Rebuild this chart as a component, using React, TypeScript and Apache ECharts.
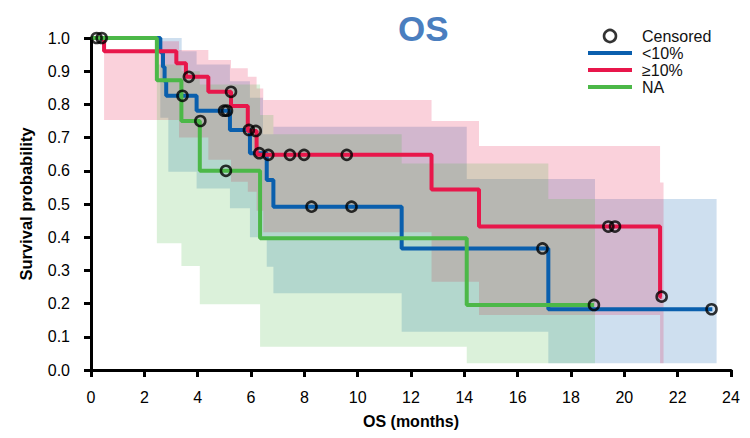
import React, { useEffect, useRef } from "react";
import * as echarts from "echarts";

// Kaplan–Meier step points: [time (months), survival probability]
const lowSteps: number[][] = [
  [0, 1], [2.6, 0.957], [2.7, 0.913], [2.76, 0.87], [2.82, 0.826], [3.96, 0.781],
  [5.21, 0.723], [5.96, 0.653], [6.59, 0.572], [6.84, 0.492], [11.65, 0.366],
  [17.15, 0.183], [23.3, 0.183],
];
const highSteps: number[][] = [
  [0, 1], [0.49, 0.96], [3.2, 0.924], [3.56, 0.883], [4.4, 0.838], [5.25, 0.795],
  [5.88, 0.72], [6.21, 0.648], [12.77, 0.544], [14.55, 0.432], [21.34, 0.221],
  [21.4, 0.221],
];
const naSteps: number[][] = [
  [0, 1], [2.47, 0.873], [3.39, 0.75], [4.08, 0.6], [6.34, 0.397], [14.09, 0.196],
  [18.86, 0.196],
];

// Censored observations
const lowCensor: number[][] = [
  [3.43, 0.826], [4.99, 0.781], [5.1, 0.781], [5.92, 0.723], [6.31, 0.653],
  [8.27, 0.492], [9.77, 0.492], [16.93, 0.366], [23.27, 0.183],
];
const highCensor: number[][] = [
  [0.4, 1], [3.67, 0.883], [5.25, 0.838], [6.18, 0.72], [6.65, 0.648], [7.46, 0.648],
  [7.99, 0.648], [9.59, 0.648], [19.4, 0.432], [19.65, 0.432], [21.4, 0.221],
];
const naCensor: number[][] = [[0.21, 1], [4.1, 0.75], [5.06, 0.6], [18.86, 0.196]];

// Confidence bands: breakpoints and lower/upper bound per interval
const lowBandT = [2.6, 2.9, 3.4, 3.96, 5.21, 5.96, 6.45, 6.59, 6.84, 11.65, 14.09, 17.15, 18.9, 23.46];
const lowBandLo = [0.76, 0.597, 0.597, 0.547, 0.487, 0.4, 0.4, 0.311, 0.231, 0.115, 0.115, 0.02, 0.02];
const lowBandHi = [1.0, 1.0, 0.96, 0.92, 0.87, 0.82, 0.71, 0.71, 0.733, 0.733, 0.575, 0.575, 0.515];

const highBandT = [0.49, 2.6, 3.3, 4.4, 5.25, 5.88, 6.21, 6.46, 12.77, 14.55, 21.34, 21.47];
const highBandLo = [0.753, 0.753, 0.7, 0.633, 0.567, 0.537, 0.48, 0.415, 0.266, 0.166, 0.02];
const highBandHi = [0.96, 0.99, 0.964, 0.934, 0.909, 0.883, 0.848, 0.813, 0.75, 0.675, 0.565];

const naBandT = [2.47, 3.39, 4.08, 6.34, 6.84, 11.65, 14.09, 17.15, 18.9];
const naBandLo = [0.382, 0.313, 0.198, 0.07, 0.07, 0.07, 0.02, 0.02];
const naBandHi = [0.92, 0.9, 0.86, 0.768, 0.71, 0.622, 0.622, 0.515];

const groupNames = ["<10%", "≥10%", "NA"];
const FONT = "'Liberation Sans', Arial, sans-serif";
const BLUE = "#0a5fad";
const RED = "#e8174b";
const GREEN = "#4cb848";
const LINE_ICON = "path://M0,0H44V4H0Z";

function bandPolygon(T: number[], lo: number[], hi: number[]): number[][] {
  const pts: number[][] = [];
  for (let i = 0; i < hi.length; i++) {
    pts.push([T[i], hi[i]], [T[i + 1], hi[i]]);
  }
  for (let i = lo.length - 1; i >= 0; i--) {
    pts.push([T[i + 1], lo[i]], [T[i], lo[i]]);
  }
  return pts;
}

function bandSeries(name: string, poly: number[][], fill: string) {
  return {
    type: "custom",
    name: name + " band",
    silent: true,
    data: poly,
    encode: { x: 0, y: 1 },
    renderItem: (params: any, api: any) => {
      if (params.dataIndex !== 0) return null;
      const points = poly.map((p) => api.coord(p));
      return {
        type: "polygon",
        shape: { points },
        style: { fill, stroke: "none" },
      };
    },
  };
}

function lineSeries(name: string, data: number[][], color: string) {
  return {
    type: "line",
    name,
    data,
    step: "end",
    showSymbol: false,
    symbol: "none",
    clip: false,
    lineStyle: { color, width: 4 },
    itemStyle: { color },
  };
}

export default function App() {
  const ref = useRef<HTMLDivElement>(null);
  useEffect(() => {
    if (!ref.current) return;
    const chart = echarts.init(ref.current, undefined, { renderer: "svg" });
    const censored = [...lowCensor, ...highCensor, ...naCensor];
    const colors = [BLUE, RED, GREEN];
    chart.setOption({
      animation: false,
      title: {
        text: "OS",
        left: 393,
        top: 6,
        textStyle: { fontFamily: FONT, fontSize: 35, fontWeight: "bold", color: "#4a7ebf" },
      },
      legend: {
        orient: "vertical",
        left: 583,
        top: 23,
        itemWidth: 44,
        itemHeight: 12,
        itemGap: 1,
        data: [
          {
            name: "Censored",
            icon: "circle",
            itemStyle: { color: "rgba(0,0,0,0)", borderColor: "#000", borderWidth: 2.6 },
          },
          ...groupNames.map((n, i) => ({
            name: n,
            icon: LINE_ICON,
            itemStyle: { color: colors[i], borderWidth: 0 },
          })),
        ],
        textStyle: { fontFamily: FONT, fontSize: 16, color: "#111", lineHeight: 16, padding: [0, 0, 0, 5] },
      },
      grid: { left: 91, right: 19, top: 38, bottom: 68 },
      xAxis: {
        type: "value",
        min: 0,
        max: 24,
        interval: 2,
        name: "OS (months)",
        nameLocation: "middle",
        nameGap: 43,
        nameTextStyle: { fontFamily: FONT, fontSize: 16, fontWeight: "bold", color: "#000" },
        axisLine: { lineStyle: { color: "#000", width: 3 } },
        axisTick: { length: 7, lineStyle: { color: "#000", width: 3 } },
        axisLabel: { margin: 19, fontFamily: FONT, fontSize: 16, color: "#000" },
        splitLine: { show: false },
      },
      yAxis: {
        type: "value",
        min: 0,
        max: 1,
        interval: 0.1,
        name: "Survival probability",
        nameLocation: "middle",
        nameGap: 57,
        nameTextStyle: { fontFamily: FONT, fontSize: 16.5, fontWeight: "bold", color: "#000" },
        axisLine: { show: true, lineStyle: { color: "#000", width: 3 } },
        axisTick: { show: true, length: 7, lineStyle: { color: "#000", width: 3 } },
        axisLabel: {
          margin: 21,
          fontFamily: FONT,
          fontSize: 16,
          color: "#000",
          formatter: (v: number) => v.toFixed(1),
        },
        splitLine: { show: false },
      },
      series: [
        bandSeries(groupNames[0], bandPolygon(lowBandT, lowBandLo, lowBandHi), "rgba(10,95,173,0.2)"),
        bandSeries(groupNames[1], bandPolygon(highBandT, highBandLo, highBandHi), "rgba(232,23,75,0.2)"),
        bandSeries(groupNames[2], bandPolygon(naBandT, naBandLo, naBandHi), "rgba(76,184,72,0.2)"),
        lineSeries(groupNames[0], lowSteps, BLUE),
        lineSeries(groupNames[1], highSteps, RED),
        lineSeries(groupNames[2], naSteps, GREEN),
        {
          type: "scatter",
          name: "Censored",
          data: censored,
          symbol: "circle",
          symbolSize: 10,
          clip: false,
          z: 5,
          itemStyle: { color: "rgba(0,0,0,0)", borderColor: "#000", borderWidth: 2.6 },
        },
      ],
    });
    return () => chart.dispose();
  }, []);
  return (
    <div
      ref={ref}
      style={{ position: "fixed", left: 0, top: 0, width: 750, height: 438, background: "#fff" }}
    />
  );
}
